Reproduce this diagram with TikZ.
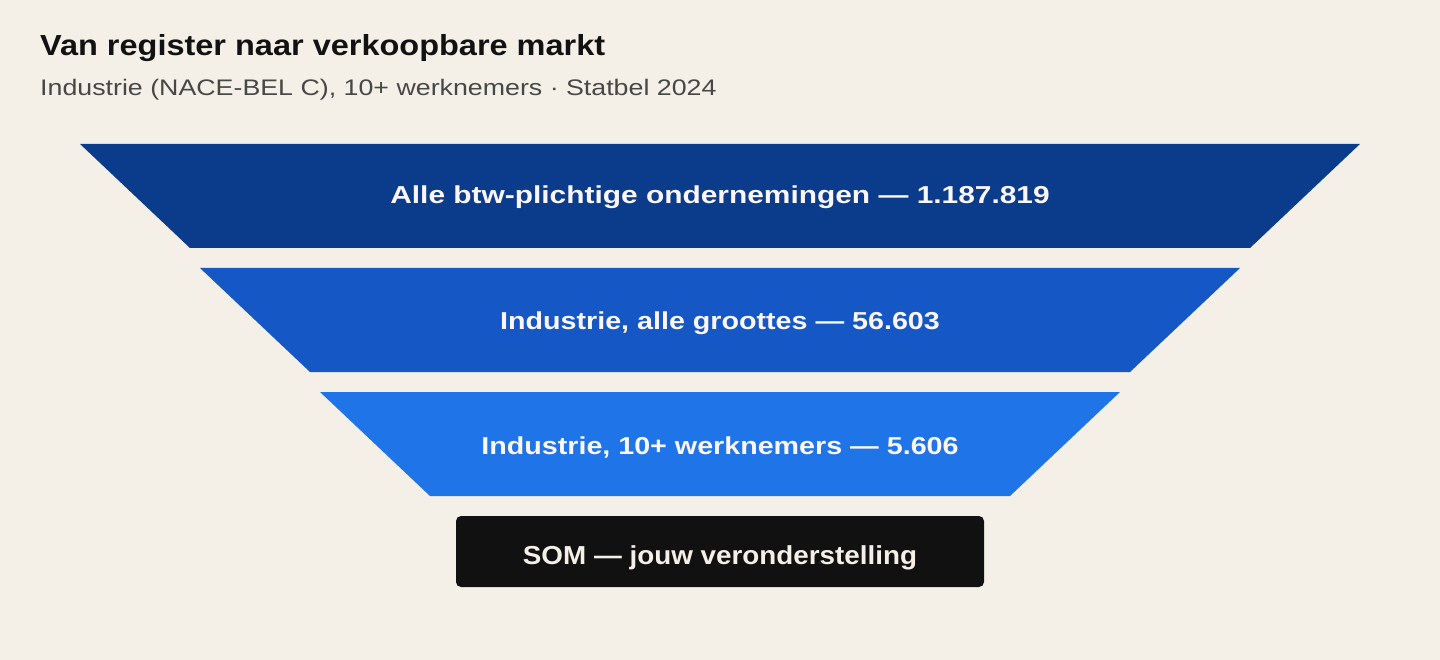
\documentclass[tikz,border=0pt]{standalone}
\usepackage{fontspec}
\usepackage{graphicx}
\setmainfont{Liberation Sans}
\definecolor{bg}{HTML}{F4F0E8}
\definecolor{tierA}{HTML}{0B3C8C}
\definecolor{tierB}{HTML}{1557C4}
\definecolor{tierC}{HTML}{1F74E8}
\definecolor{somfill}{HTML}{111111}
\definecolor{subgrey}{HTML}{474747}
\definecolor{labelcol}{HTML}{FAF6FA}
\definecolor{somtext}{HTML}{F4F0E8}
\newcommand\xwide[2]{\scalebox{#1}[1]{#2}}
\begin{document}
\begin{tikzpicture}[x=1pt,y=-1pt,
  tierlabel/.style={text=labelcol,font=\fontsize{24.5}{30}\selectfont\bfseries,anchor=base,inner sep=0pt}]
\useasboundingbox (0,0) rectangle (1440,660);
\fill[bg] (0,0) rectangle (1440,660);
\node[anchor=base west,inner sep=0pt,font=\fontsize{29}{34}\selectfont\bfseries,text=black!93] (title) at (40,56) {\xwide{1.12}{Van register naar verkoopbare markt}};
\node[anchor=base west,inner sep=0pt,font=\fontsize{22.5}{28}\selectfont,text=subgrey] (subtitle) at (40,96) {\xwide{1.19}{Industrie (NACE-BEL C), 10+ werknemers · Statbel 2024}};
\fill[tierA] (80,144) -- (1360,144) -- (1250,248) -- (190,248) -- cycle;
\fill[tierB] (200,268) -- (1240,268) -- (1130,372) -- (310,372) -- cycle;
\fill[tierC] (320,392) -- (1120,392) -- (1010,496) -- (430,496) -- cycle;
\fill[somfill,rounded corners=5pt] (456,516) rectangle (984,587);
\node[tierlabel] (l1) at (720,204) {\xwide{1.22}{Alle btw-plichtige ondernemingen — 1.187.819}};
\node[tierlabel] (l2) at (720,329) {\xwide{1.17}{Industrie, alle groottes — 56.603}};
\node[tierlabel] (l3) at (720,454) {\xwide{1.17}{Industrie, 10+ werknemers — 5.606}};
\node[tierlabel,text=somtext,font=\fontsize{26}{30}\selectfont\bfseries] (som) at (720,564) {\xwide{1.07}{SOM — jouw veronderstelling}};
\end{tikzpicture}
\end{document}
